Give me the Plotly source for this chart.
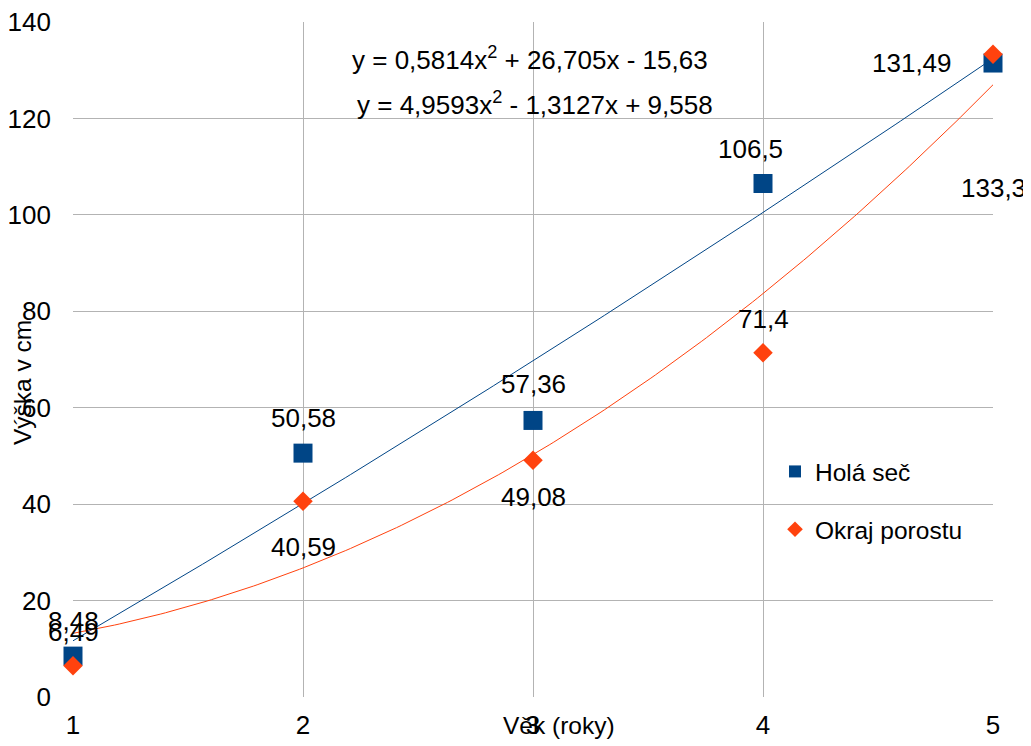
import numpy as np
import plotly.graph_objects as go

# ---- data ----
vek = [1, 2, 3, 4, 5]
hola_sec = [8.48, 50.58, 57.36, 106.5, 131.49]
okraj_porostu = [6.49, 40.59, 49.08, 71.4, 133.3]
hola_labels = ["8,48", "50,58", "57,36", "106,5", "131,49"]
okraj_labels = ["6,49", "40,59", "49,08", "71,4", "133,3"]
eq_hola = "y = 0,5814x<sup>2</sup> + 26,705x - 15,63"
eq_okraj = "y = 4,9593x<sup>2</sup> - 1,3127x + 9,558"
y_ticks = [0, 20, 40, 60, 80, 100, 120, 140]
x_ticks = [1, 2, 3, 4, 5]

# label offsets in pixels (xshift, yshift)
hola_off = [(0, 35), (0, 35), (0, 36), (-13, 35), (-81, 0)]
okraj_off = [(0, 34), (0, -46), (0, -37), (0, 34), (0, -134)]

BLUE = "#004586"
ORANGE = "#ff420e"
FONT = "Liberation Sans, Arial, sans-serif"
FS = 26
FS_SMALL = 24.5

# quadratic trend lines fitted from the data
xs = np.linspace(1, 5, 200)
c_h = np.polyfit(vek, hola_sec, 2)
c_o = np.polyfit(vek, okraj_porostu, 2)

fig = go.Figure()
fig.add_trace(go.Scatter(x=xs, y=np.polyval(c_h, xs), mode="lines",
                         line=dict(color=BLUE, width=1), showlegend=False,
                         hoverinfo="skip", cliponaxis=False))
fig.add_trace(go.Scatter(x=xs, y=np.polyval(c_o, xs), mode="lines",
                         line=dict(color=ORANGE, width=1), showlegend=False,
                         hoverinfo="skip", cliponaxis=False))
fig.add_trace(go.Scatter(x=vek, y=hola_sec, mode="markers", name="Holá seč",
                         legendgroup="a", cliponaxis=False,
                         marker=dict(symbol="square", size=19, color=BLUE)))
fig.add_trace(go.Scatter(x=vek, y=okraj_porostu, mode="markers", name="Okraj porostu",
                         legendgroup="b", cliponaxis=False,
                         marker=dict(symbol="diamond", size=15, color=ORANGE)))

ann = []
for xv, yv, t, (dx, dy) in zip(vek, hola_sec, hola_labels, hola_off):
    ann.append(dict(x=xv, y=yv, text=t, xref="x", yref="y", showarrow=False,
                    xanchor="center", yanchor="middle",
                    xshift=dx, yshift=dy, font=dict(size=FS, color="black", family=FONT)))
for xv, yv, t, (dx, dy) in zip(vek, okraj_porostu, okraj_labels, okraj_off):
    ann.append(dict(x=xv, y=yv, text=t, xref="x", yref="y", showarrow=False,
                    xanchor="center", yanchor="middle",
                    xshift=dx, yshift=dy, font=dict(size=FS, color="black", family=FONT)))

# page is offset by the body margin (8px); plot area in page pixels: 73..993 x 22..697
OFF = 8
W, H = 1023, 738
L, T = 73 - OFF, 22 - OFF
R, B = W + OFF - 993, H + OFF - 697
pw, ph = W - L - R, H - T - B


def px(xp):
    return (xp - OFF - L) / pw


def py(yp):
    return (H - B - (yp - OFF)) / ph


def paper_text(xp, yp, text, size, angle=0):
    return dict(x=px(xp), y=py(yp), xref="paper", yref="paper", text=text,
                showarrow=False, xanchor="center", yanchor="middle", textangle=angle,
                font=dict(size=size, color="black", family=FONT))


ann.append(paper_text(530, 58, eq_hola, FS))
ann.append(paper_text(535, 103, eq_okraj, FS))
ann.append(paper_text(559, 726, "Věk (roky)", FS_SMALL))
ann.append(paper_text(22, 383, "Výška v cm", FS_SMALL, -90))

fig.update_layout(
    width=W, height=H,
    margin=dict(l=L, r=R, t=T, b=B, autoexpand=False),
    paper_bgcolor="white", plot_bgcolor="white",
    font=dict(family=FONT, size=FS, color="black"),
    annotations=ann,
    legend=dict(x=px(775), y=py(449), xanchor="left", yanchor="top",
                font=dict(size=FS_SMALL, family=FONT, color="black"),
                tracegroupgap=23, itemsizing="constant",
                bgcolor="rgba(0,0,0,0)"),
    xaxis=dict(range=[1, 5], tickvals=x_ticks, showgrid=True, gridcolor="#b3b3b3",
               gridwidth=1, zeroline=False, showline=False, ticks="",
               automargin=False, ticklabeloverflow="allow",
               ticklabelstandoff=10, tickfont=dict(size=FS)),
    yaxis=dict(range=[0, 140], tickvals=y_ticks, showgrid=True, gridcolor="#b3b3b3",
               gridwidth=1, zeroline=False, showline=False, ticks="",
               automargin=False, ticklabeloverflow="allow",
               ticklabelstandoff=21, tickfont=dict(size=FS)),
)

fig.write_html("out.html")
